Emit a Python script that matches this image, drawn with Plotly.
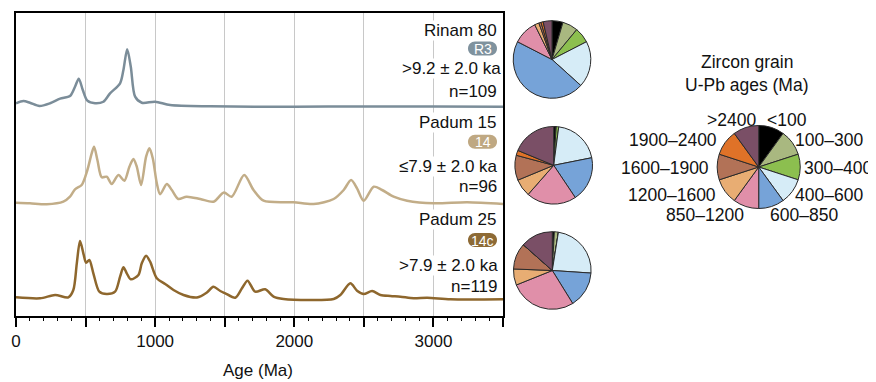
import plotly.graph_objects as go

# ---------------- data ----------------
rinam_age = [0, 53, 100, 168, 245, 317, 388, 424, 451, 480, 513, 568, 628, 676, 748, 772, 799, 825, 856, 904,
             1000, 1108, 1396, 2000, 2500, 3000, 3500]
rinam_dens = [3.7, 6, 4.3, 1, 3.7, 8.3, 11, 20.3, 28.3, 17, 6.3, 3.7, 5.3, 13.7, 23.7, 37, 57.7, 40.3, 10.3, 4.3,
              5.3, 2, 0.7, 0.3, 0.6, 0.5, 0.2]

padum15_age = [0, 100, 221, 340, 388, 424, 472, 513, 544, 561, 585, 616, 652, 688, 736, 779, 815, 844, 868, 899,
               935, 959, 983, 1012, 1036, 1084, 1120, 1166, 1226, 1324, 1420, 1494, 1550, 1640, 1707, 1779, 1995,
               2139, 2283, 2355, 2408, 2451, 2499, 2571, 2631, 2714, 2811, 3002, 3242, 3500]
padum15_dens = [2.3, 1.7, 0.7, 3.3, 8.3, 15.7, 20, 35, 51.7, 58.3, 45, 27.7, 28.3, 21, 30, 24.3, 38.3, 46, 38.3, 20,
                48.3, 56.7, 46.7, 21.7, 10.7, 21, 15, 6, 8.3, 6, 3.3, 12.5, 8.3, 30, 15, 4.3, 2.7,
                1, 6, 15, 25, 16.7, 4.3, 18.3, 15, 8.3, 4.3, 1.7, 2.7, 1]

padum25_age = [0, 173, 281, 376, 412, 437, 460, 484, 504, 527, 556, 599, 652, 712, 748, 772, 796, 825, 880, 904,
               935, 964, 1012, 1072, 1132, 1204, 1300, 1372, 1418, 1468, 1504, 1576, 1624, 1664, 1719, 1791, 1851,
               1923, 2283, 2331, 2403, 2451, 2499, 2559, 2619, 2691, 2763, 2858, 2955, 3122, 3500]
padum25_dens = [2.2, 1.2, 4.5, 2.2, 9.5, 36.2, 58.5, 46.2, 36.8, 39.5, 26.2, 7.8, 5.5, 7.8, 22.8, 32.2, 26.2, 20.2,
                24.5, 36.2, 43.8, 37.8, 21.2, 15.5, 9.5, 4.5, 2, 7, 12.8, 8.5, 6.2, 1.8, 11.2, 18.8, 7.8, 10.2, 2.8,
                0.5, 0.5, 4.5, 16.2, 8.8, 5.5, 8.5, 4.5, 3.5, 2.8, 1.2, 1.8, 0.2, 0.2]

age_bins = ["<100", "100–300", "300–400", "400–600", "600–850", "850–1200",
            "1200–1600", "1600–1900", "1900–2400", ">2400"]
bin_colors = ["#000000", "#a9b880", "#8cbf4f", "#d6ecf7", "#76a3d8", "#e08fa9",
              "#e8ad73", "#b27257", "#df7228", "#7a4f66"]

rinam_counts = [5, 7, 7, 21, 50, 11, 2, 1, 1, 4]
padum15_counts = [1, 0, 1, 19, 18, 20, 7, 10, 2, 18]
padum25_counts = [1, 2, 0, 28, 18, 33, 8, 13, 0, 16]
legend_counts = [1] * 10

sample_names = ["Rinam 80", "Padum 15", "Padum 25"]
sample_codes = ["R3", "14", "14c"]
sample_ages = [">9.2 ± 2.0 ka", "≤7.9 ± 2.0 ka", ">7.9 ± 2.0 ka"]
sample_n = ["n=109", "n=96", "n=119"]

x_ticks = [0, 500, 1000, 1500, 2000, 2500, 3000, 3500]
x_tick_text = ["0", "", "1000", "", "2000", "", "3000", ""]

# ---------------- layout helpers (screen pixel coordinates) ----------------
SCREEN_W, SCREEN_H = 876, 382
BODY = 8                      # default page margin of the html body
W, H = SCREEN_W - BODY, SCREEN_H - BODY
PLOT_L, PLOT_T, PLOT_B = 16, 13, 316      # screen px of paper area
PW = SCREEN_W - PLOT_L
PH = PLOT_B - PLOT_T
AX_RIGHT = 503

def px_x(px):
    return (px - PLOT_L) / PW

def px_y(py):
    return (PLOT_B - py) / PH

FONT = "Liberation Sans, Arial, Helvetica, sans-serif"
line_colors = ["#7b8d99", "#c2ad88", "#8e672d"]
badge_colors = ["#7f929e", "#bfa882", "#8d6a35"]
baselines = [209, 111, 16.5]

fig = go.Figure()

for ages, dens, col, base in zip([rinam_age, padum15_age, padum25_age],
                                 [rinam_dens, padum15_dens, padum25_dens],
                                 line_colors, baselines):
    fig.add_trace(go.Scatter(x=ages, y=[base + d for d in dens], mode="lines",
                             line=dict(color=col, width=2.5, shape="spline", smoothing=0.8),
                             hoverinfo="skip", showlegend=False))

def pie_domain(cx, cy, r):
    return dict(x=[px_x(cx - r), px_x(cx + r)], y=[px_y(cy + r), px_y(cy - r)])

pie_specs = [(rinam_counts, 552, 59.5, 38.8), (padum15_counts, 553.7, 165.3, 38.8),
             (padum25_counts, 552.3, 270.5, 38.8), (legend_counts, 758.7, 167, 41.5)]
for counts, cx, cy, r in pie_specs:
    fig.add_trace(go.Pie(values=counts, labels=age_bins, sort=False, direction="clockwise", rotation=0,
                         marker=dict(colors=bin_colors, line=dict(color="#2a2a2a", width=1)),
                         textinfo="none", hoverinfo="skip", showlegend=False,
                         domain=pie_domain(cx, cy, r)))

annotations = []
shapes = []

def txt(text, px, py, xanchor="right", size=17, color="#111111", bg="white"):
    a = dict(text=text, x=px_x(px), y=px_y(py), xref="paper", yref="paper",
             xanchor=xanchor, yanchor="middle", showarrow=False,
             font=dict(family=FONT, size=size, color=color), borderpad=0)
    if bg:
        a["bgcolor"] = bg
    annotations.append(a)

name_y = [30, 122.7, 220]
badge_y = [48.5, 141.7, 240]
age_y = [68.5, 166.7, 265]
n_y = [91.7, 186.7, 286.7]
age_right = [502, 498.5, 498.5]
for i in range(3):
    txt(sample_names[i], 497.5, name_y[i])
    txt(sample_ages[i], age_right[i], age_y[i])
    txt(sample_n[i], 497.5, n_y[i])
    x0, x1 = 468, 497
    top, bot = badge_y[i] - 7, badge_y[i] + 7
    r = 7
    k = 0.55 * r
    pts = [("M", [(x0 + r, top)]), ("L", [(x1 - r, top)]),
           ("C", [(x1 - r + k, top), (x1, badge_y[i] - k), (x1, badge_y[i])]),
           ("C", [(x1, badge_y[i] + k), (x1 - r + k, bot), (x1 - r, bot)]),
           ("L", [(x0 + r, bot)]),
           ("C", [(x0 + r - k, bot), (x0, badge_y[i] + k), (x0, badge_y[i])]),
           ("C", [(x0, badge_y[i] - k), (x0 + r - k, top), (x0 + r, top)])]
    path = " ".join(cmd + " " + " ".join(f"{px_x(a):.5f},{px_y(b):.5f}" for a, b in p) for cmd, p in pts) + " Z"
    shapes.append(dict(type="path", path=path, xref="paper", yref="paper",
                       fillcolor=badge_colors[i], line=dict(width=0), layer="above"))
    annotations.append(dict(text=sample_codes[i], x=px_x(482.5), y=px_y(badge_y[i] + 0.5), xref="paper",
                            yref="paper", xanchor="center", yanchor="middle", showarrow=False,
                            font=dict(family=FONT, size=14, color="white")))

txt("Zircon grain", 746.7, 62, xanchor="center", size=17.5, bg=None)
txt("U-Pb ages (Ma)", 746.7, 85, xanchor="center", size=17.5, bg=None)
legend_pos = {"<100": (766, 120, "left"), "100–300": (794, 140, "left"), "300–400": (803, 168.3, "left"),
              "400–600": (794, 195, "left"), "600–850": (769, 215, "left"), "850–1200": (745, 215, "right"),
              "1200–1600": (717, 195, "right"), "1600–1900": (710, 168.3, "right"),
              "1900–2400": (718, 140, "right"), ">2400": (756.7, 120, "right")}
for lab in age_bins:
    px, py, anc = legend_pos[lab]
    txt(lab, px, py, xanchor=anc, size=17.5, bg=None)

txt("Age (Ma)", 258, 370, xanchor="center", size=17, bg=None)

fig.update_layout(
    width=W, height=H,
    margin=dict(l=PLOT_L - BODY, r=0, t=PLOT_T - BODY, b=SCREEN_H - PLOT_B, pad=0),
    paper_bgcolor="white", plot_bgcolor="white",
    font=dict(family=FONT, size=17, color="#111111"),
    xaxis=dict(domain=[0, px_x(AX_RIGHT)], range=[0, 3500], tickmode="array", tickvals=x_ticks,
               ticktext=x_tick_text, ticks="outside", ticklen=9, tickwidth=1.5, tickcolor="black",
               showline=True, linewidth=2, linecolor="black", mirror=True,
               showgrid=True, gridcolor="#c8c8c8", gridwidth=1, zeroline=False,
               tickfont=dict(family=FONT, size=17, color="#111111"),
               minor=dict(dtick=100, tick0=0, ticks="outside", ticklen=3, tickwidth=1.2, tickcolor="black",
                          showgrid=False)),
    yaxis=dict(range=[0, PH], showticklabels=False, ticks="", showgrid=False, zeroline=False,
               showline=True, linewidth=2, linecolor="black", mirror=True),
    annotations=annotations, shapes=shapes,
)

fig.write_html("out.html")
